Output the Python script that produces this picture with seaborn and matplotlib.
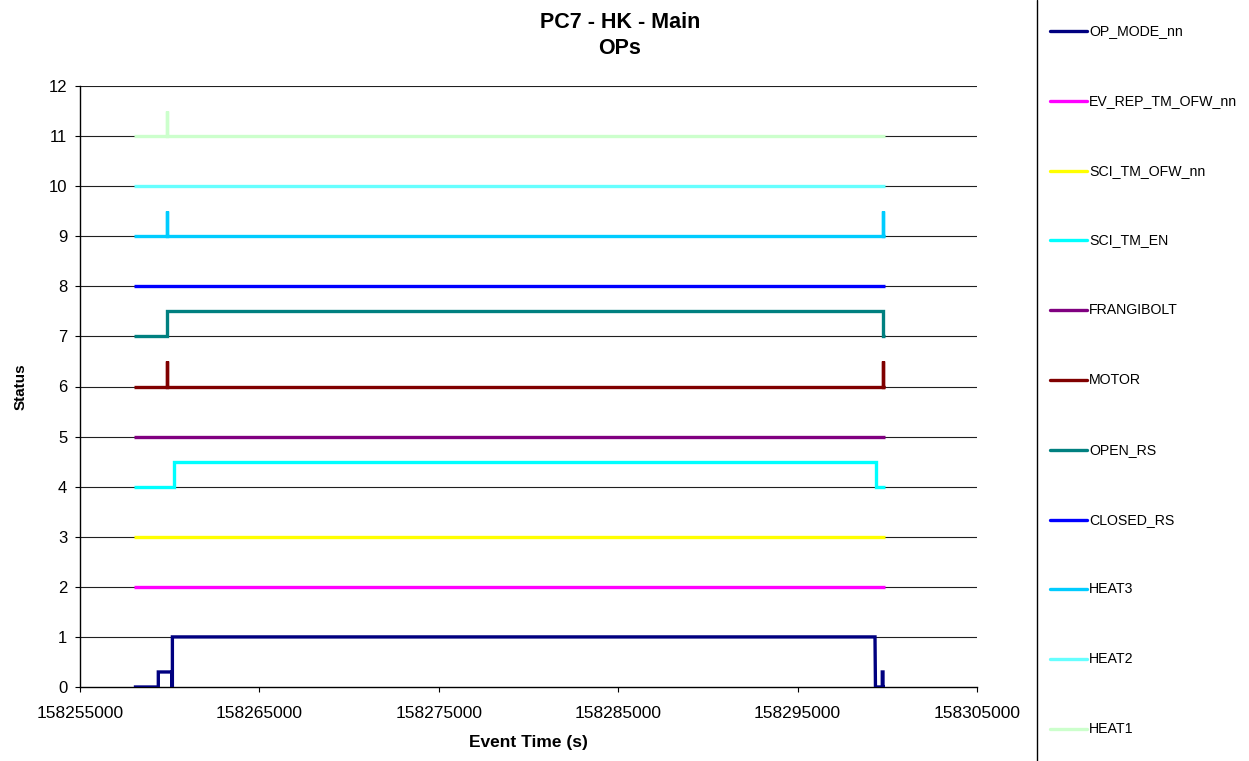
import numpy as np
import pandas as pd
import matplotlib
matplotlib.use("Agg")
import matplotlib.pyplot as plt
from matplotlib.lines import Line2D
import seaborn as sns

sns.set_theme(style="ticks")
plt.rcParams['font.family'] = ['Liberation Sans', 'DejaVu Sans']
plt.rcParams['text.color'] = 'black'
plt.rcParams['axes.labelcolor'] = 'black'
plt.rcParams['xtick.color'] = 'black'
plt.rcParams['ytick.color'] = 'black'

# ---------------- data ----------------
labels = ["OP_MODE_nn", "EV_REP_TM_OFW_nn", "SCI_TM_OFW_nn", "SCI_TM_EN", "FRANGIBOLT",
          "MOTOR", "OPEN_RS", "CLOSED_RS", "HEAT3", "HEAT2", "HEAT1"]
colors = ["#000080", "#FF00FF", "#FFFF00", "#00FFFF", "#800080",
          "#800000", "#008080", "#0000FF", "#00CCFF", "#66FFFF", "#CCFFCC"]

op_mode_t = [158258000, 158259365, 158259365, 158260110, 158260110, 158260150, 158260150,
             158299314, 158299340, 158299720, 158299720, 158299760, 158299760, 158299850]
op_mode_v = [0, 0, 0.3, 0.3, 0, 0, 1, 1, 0, 0, 0.3, 0.3, 0, 0]

ev_rep_t = [158258000, 158299850]
ev_rep_v = [2, 2]

sci_ofw_t = [158258000, 158299850]
sci_ofw_v = [3, 3]

sci_en_t = [158258000, 158260256, 158260256, 158299350, 158299350, 158299850]
sci_en_v = [4, 4, 4.5, 4.5, 4, 4]

frangi_t = [158258000, 158299850]
frangi_v = [5, 5]

motor_t = [158258000, 158259833, 158259833, 158259833, 158299740, 158299740, 158299740, 158299850]
motor_v = [6, 6, 6.5, 6, 6, 6.5, 6, 6]

open_t = [158258000, 158259850, 158259850, 158299777, 158299777, 158299850]
open_v = [7, 7, 7.5, 7.5, 7, 7]

closed_t = [158258000, 158299850]
closed_v = [8, 8]

heat3_t = [158258000, 158259833, 158259833, 158259833, 158299740, 158299740, 158299740, 158299850]
heat3_v = [9, 9, 9.5, 9, 9, 9.5, 9, 9]

heat2_t = [158258000, 158299850]
heat2_v = [10, 10]

heat1_t = [158258000, 158259833, 158259833, 158259833, 158299850]
heat1_v = [11, 11, 11.5, 11, 11]

xticks = [158255000, 158265000, 158275000, 158285000, 158295000, 158305000]
yticks = list(range(0, 13))

series_t = [op_mode_t, ev_rep_t, sci_ofw_t, sci_en_t, frangi_t, motor_t,
            open_t, closed_t, heat3_t, heat2_t, heat1_t]
series_v = [op_mode_v, ev_rep_v, sci_ofw_v, sci_en_v, frangi_v, motor_v,
            open_v, closed_v, heat3_v, heat2_v, heat1_v]

frames = []
for lab, t, v in zip(labels, series_t, series_v):
    frames.append(pd.DataFrame({"time": t, "value": v, "series": lab, "order": range(len(t))}))
df = pd.concat(frames, ignore_index=True)

# ---------------- figure ----------------
W, H = 1249, 761
fig = plt.figure(figsize=(W / 100, H / 100), dpi=100)
ax = fig.add_axes([80 / W, 1 - 687 / H, (977 - 80) / W, (687 - 86) / H])

ax.set_axisbelow(True)
for y in yticks[1:]:
    ax.axhline(y, color="#202020", lw=0.8, zorder=0)

palette = dict(zip(labels, colors))
for lab in labels:
    sub = df[df["series"] == lab]
    sns.lineplot(data=sub, x="time", y="value", color=palette[lab], sort=False,
                 estimator=None, lw=2.4, ax=ax, legend=False, zorder=3,
                 solid_joinstyle="miter", solid_capstyle="butt")

ax.set_xlim(xticks[0], xticks[-1])
ax.set_ylim(0, 12)
ax.set_xticks(xticks)
ax.set_xticklabels([str(x) for x in xticks], fontsize=12.5)
ax.set_yticks(yticks)
ax.set_yticklabels([str(y) for y in yticks], fontsize=12)
ax.tick_params(axis="both", direction="out", length=3.6, width=0.8, color="black")
ax.tick_params(axis="y", pad=5.5)
ax.tick_params(axis="x", pad=10)
for s in ["top", "right"]:
    ax.spines[s].set_visible(False)
for s in ["left", "bottom"]:
    ax.spines[s].set_color("black")
    ax.spines[s].set_linewidth(1.0)
ax.set_xlabel("Event Time (s)", fontsize=12.5, fontweight="bold", labelpad=10)
ax.set_ylabel("Status", fontsize=11, fontweight="bold", labelpad=15)

fig.text(620 / W, 1 - 22 / H, "PC7 - HK - Main", ha="center", va="center",
         fontsize=15.5, fontweight="bold")
fig.text(620 / W, 1 - 48 / H, "OPs", ha="center", va="center",
         fontsize=15.5, fontweight="bold")

# legend panel
fig.add_artist(Line2D([1037 / W, 1037 / W], [0, 1], color="black", lw=1.0,
                      transform=fig.transFigure))
for i, (lab, col) in enumerate(zip(labels, colors)):
    yy = 1 - (31 + 69.8 * i) / H
    fig.add_artist(Line2D([1050 / W, 1087 / W], [yy, yy], color=col, lw=2.4,
                          transform=fig.transFigure))
    fig.text(1089 / W, yy, lab, ha="left", va="center", fontsize=10.2)

fig.savefig("out.png", dpi=100)
